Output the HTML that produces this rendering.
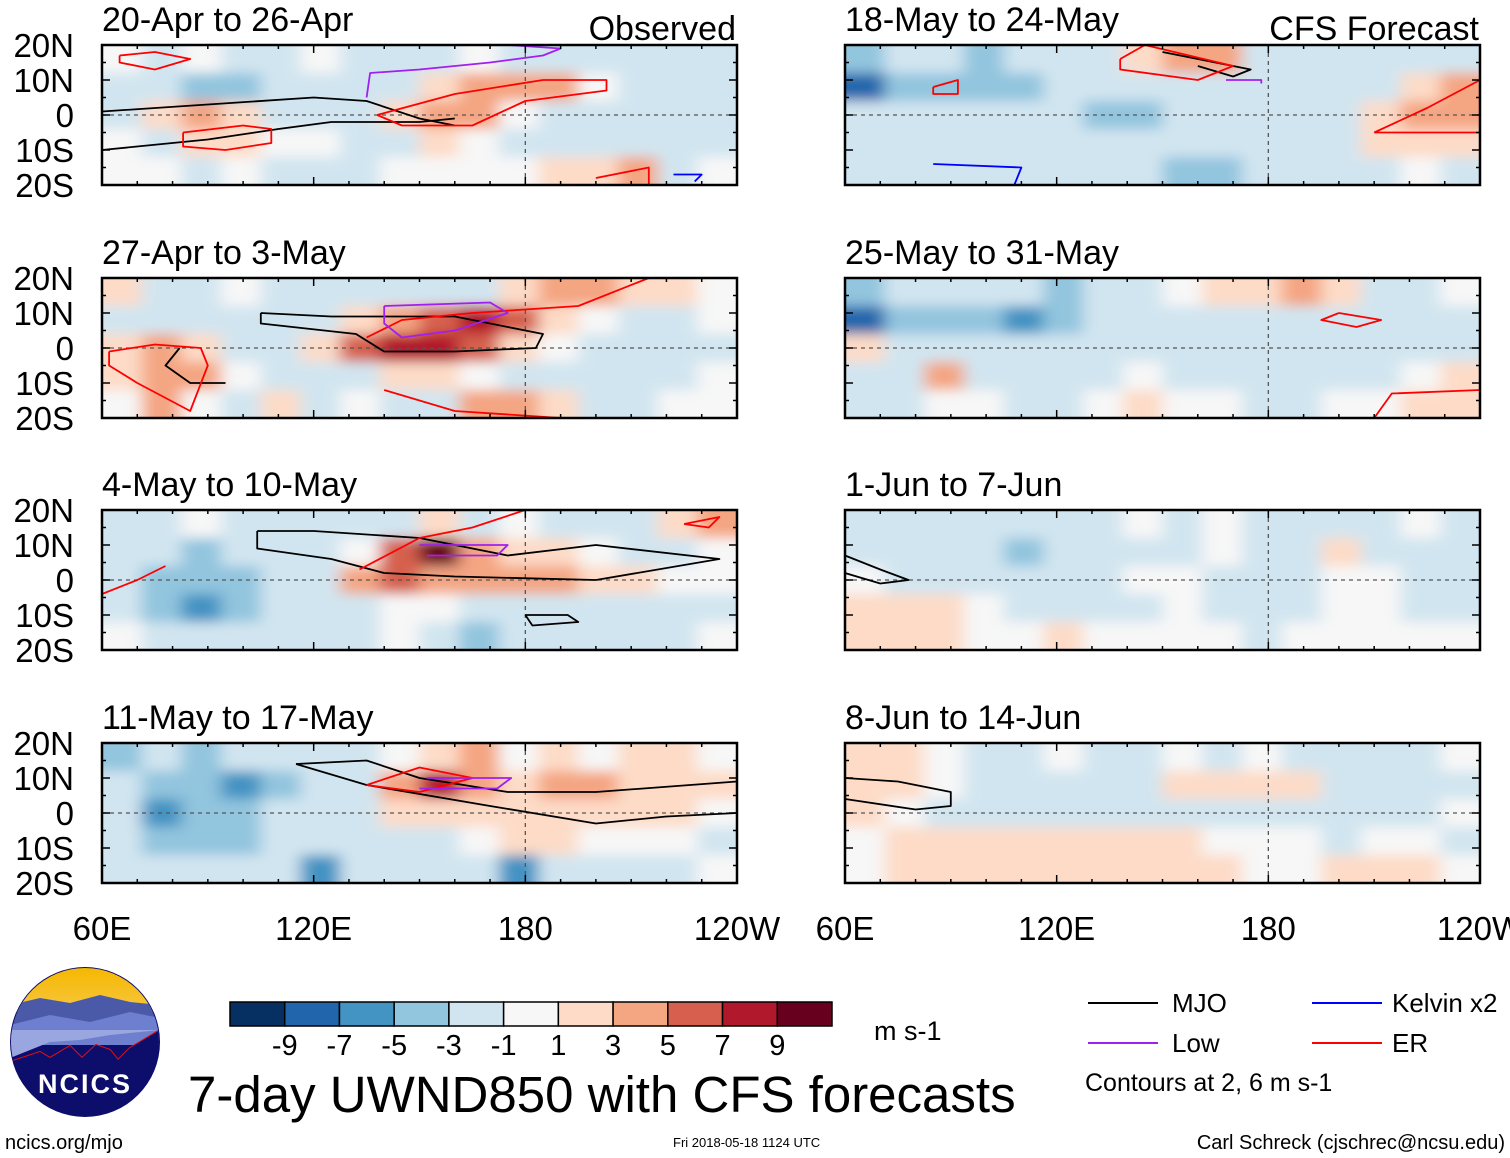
<!DOCTYPE html>
<html><head><meta charset="utf-8">
<style>
body{margin:0;background:#fff;}
svg{display:block;font-family:"Liberation Sans",Arial,sans-serif;}
</style></head>
<body>
<svg id="fig" width="1510" height="1158" viewBox="0 0 1510 1158" xmlns="http://www.w3.org/2000/svg">
<defs>
<filter id="soft" x="-5%" y="-10%" width="110%" height="120%"><feGaussianBlur stdDeviation="8 6"/></filter>
<linearGradient id="sky" x1="0" y1="0" x2="0" y2="1"><stop offset="0" stop-color="#f5b800"/><stop offset="1" stop-color="#f7c640"/></linearGradient>
<clipPath id="logoclip"><circle cx="85" cy="1042" r="74"/></clipPath>
</defs>
<g id="panels"></g>

<g id="cbar"></g>
<text x="874" y="1040" font-size="27">m s-1</text>
<text x="188" y="1112" font-size="51">7-day UWND850 with CFS forecasts</text>

<g>
<line x1="1088" y1="1003" x2="1158" y2="1003" stroke="#000" stroke-width="2"/>
<text x="1172" y="1012" font-size="26">MJO</text>
<line x1="1088" y1="1043" x2="1158" y2="1043" stroke="#a020f0" stroke-width="2"/>
<text x="1172" y="1052" font-size="26">Low</text>
<line x1="1312" y1="1003" x2="1382" y2="1003" stroke="#0000ff" stroke-width="2"/>
<text x="1392" y="1012" font-size="26">Kelvin x2</text>
<line x1="1312" y1="1043" x2="1382" y2="1043" stroke="#ff0000" stroke-width="2"/>
<text x="1392" y="1052" font-size="26">ER</text>
<text x="1085" y="1091" font-size="25">Contours at 2, 6 m s-1</text>
</g>

<g>
<circle cx="85" cy="1042" r="75" fill="#0d0d6b"/>
<g clip-path="url(#logoclip)">
<rect x="10" y="967" width="150" height="45" fill="url(#sky)"/>
<path d="M10 1005 L40 998 L70 1003 L100 995 L130 1002 L160 1005 L160 1030 L10 1030Z" fill="#4a5aa8"/>
<path d="M10 1025 L50 1015 L90 1022 L130 1012 L160 1018 L160 1045 L10 1045Z" fill="#6f7fd0"/>
<path d="M10 1058 L50 1042 L80 1040 L110 1035 L160 1030 L10 1030Z" fill="#9aa6e0"/>
<path d="M10 1062 L40 1052 L50 1058 L70 1046 L82 1058 L96 1045 L110 1050 L118 1060 L130 1048 L160 1030" fill="none" stroke="#e01010" stroke-width="2"/>
<path d="M10 1062 L40 1052 L50 1058 L70 1046 L82 1058 L96 1045 L110 1050 L118 1060 L130 1048 L160 1030 L160 1120 L10 1120Z" fill="#0d0d6b"/>
</g>
<text x="85" y="1093" font-size="27" font-weight="bold" fill="#fff" text-anchor="middle" letter-spacing="2">NCICS</text>
</g>

<text x="5" y="1149" font-size="20">ncics.org/mjo</text>
<text x="673" y="1147" font-size="13">Fri 2018-05-18 1124 UTC</text>
<text x="1505" y="1149" font-size="20" text-anchor="end">Carl Schreck (cjschrec@ncsu.edu)</text>
</svg>
<script>
const levels=[-9,-7,-5,-3,-1,1,3,5,7,9];
const colors=["#053061","#2166ac","#4393c3","#92c5de","#d1e5f0","#f7f7f7","#fddbc7","#f4a582","#d6604d","#b2182b","#67001f"];
const latTicks=["20N","10N","0","10S","20S"];
const lonTicks=["60E","120E","180","120W"];
const titles=["20-Apr to 26-Apr","27-Apr to 3-May","4-May to 10-May","11-May to 17-May","18-May to 24-May","25-May to 31-May","1-Jun to 7-Jun","8-Jun to 14-Jun"];
const p1=[[0,-2,0,-2,-1,0,-1,-1,-1,0,-1,-2,-1,-2,-2,-1],[-1,-1,-3,-4,-2,-1,-2,-1,2,3,4,3,0,-2,-2,-1],[-1,2,3,2,-1,-1,-2,2,4,3,0,-1,-2,-2,-2,-1],[0,-1,1,1,0,0,-2,-1,1,0,-1,-1,-1,-1,-2,-1],[0,0,-1,0,-1,-1,-1,0,0,0,0,1,2,3,-1,0]];
const p2=[[2,-1,-1,0,-1,-1,-1,-2,-2,-1,1,3,3,2,1,0],[-1,-2,-1,-2,-2,-1,2,4,6,8,5,2,0,-1,-1,0],[2,3,1,-1,-1,1,5,7,8,6,2,0,-1,-2,-1,-1],[2,4,3,0,-1,-1,-1,1,2,0,-1,-1,-2,-1,-1,0],[0,3,0,-1,1,-1,0,-2,-1,4,3,1,-1,-1,0,0]];
const p3=[[-1,-1,0,-1,-1,-1,-2,-2,2,-1,0,-1,-1,-1,1,3],[-1,-2,-3,-2,-1,-1,0,6,9,3,2,1,0,-1,-1,0],[-2,-4,-4,-3,-2,-1,3,5,4,3,4,3,2,1,0,0],[-1,-4,-5,-3,-1,-1,-1,0,0,-1,-1,-1,-1,-1,-1,-1],[0,-1,-2,-1,-1,-1,-1,0,-1,-3,-1,-1,-2,-1,-1,0]];
const p4=[[-4,-2,-3,-2,-1,-1,-1,0,1,3,0,1,0,1,1,0],[-2,-4,-3,-5,-3,-2,-1,3,7,4,2,3,3,2,2,2],[-2,-5,-4,-4,-2,-1,-1,1,2,2,2,2,2,2,1,0],[-2,-3,-3,-3,-2,-2,-1,-1,-1,0,1,1,0,0,0,-1],[-1,-2,-1,-2,-2,-6,-2,-1,-2,-1,-5,-2,-1,-1,-1,0]];
const p5=[[-3,-2,-1,-3,-2,-1,-1,2,4,3,-1,-1,-2,-1,-1,-1],[-8,-4,-3,-4,-4,-2,-2,-1,-1,-1,-1,-2,-1,-2,2,4],[-2,-2,-1,-1,-2,-2,-4,-3,-2,-1,-1,-1,-1,2,3,4],[-1,-1,-1,-1,-1,-2,-2,-1,-2,-2,-1,-1,-1,1,2,1],[-1,-1,-2,-1,-1,-1,-1,-2,-3,-3,-2,-2,-1,-1,0,-1]];
const p6=[[-3,-2,-1,-2,-2,-3,-2,-1,0,1,2,3,2,-1,-1,0],[-8,-4,-3,-4,-5,-4,-2,-1,-1,-1,-1,-1,-1,-1,-1,-1],[2,-1,-1,-1,-1,-2,-1,-1,-1,-1,-1,-1,-2,-1,-1,-1],[-1,-1,3,-1,-1,-1,-1,0,-1,-1,-1,-1,-1,-1,0,1],[-1,-1,0,0,-1,-1,0,1,0,0,-1,-1,0,0,2,2]];
const p7=[[-1,-1,-1,-2,-1,-2,-1,0,-1,0,-1,-1,-1,-1,0,-1],[-1,-1,-1,-2,-3,-2,-1,-1,-1,0,-1,-1,1,-1,-1,-1],[0,-1,-1,-1,-1,-1,-1,0,0,-1,-1,-1,0,0,-1,-1],[1,1,1,0,-1,-1,-1,-1,0,-1,-1,-1,0,0,-1,-1],[1,1,1,0,0,1,0,0,0,0,-1,0,0,0,0,0]];
const p8=[[2,1,0,-1,-1,0,-1,-1,0,-1,0,-1,-1,-1,-1,0],[2,2,0,-1,-1,-1,-1,-1,1,1,2,1,-1,-1,-1,-1],[1,0,-1,-1,-1,-1,-1,-1,-1,-1,-1,-1,-1,-1,-1,0],[0,1,1,2,1,1,1,1,1,0,0,0,-1,0,0,-1],[0,1,2,2,1,1,1,2,2,1,0,0,1,1,1,0]];
const panelData=[p1,p2,p3,p4,p5,p6,p7,p8];

// contours: [panelIndex, type, [[lon,lat],...]]
const mjoContours=[
 [0,[[60,1],[90,3],[120,5],[135,4],[150,-1],[160,-3]]],
 [0,[[60,-10],[90,-7],[110,-4],[125,-2],[150,-2],[160,-1]]],
 [1,[[105,10],[125,9],[160,9],[185,4],[183,0],[160,-1],[140,-1],[132,4],[105,7],[105,10]]],
 [1,[[82,0],[78,-5],[85,-10],[95,-10]]],
 [2,[[104,14],[120,14],[150,12],[175,7],[200,10],[235,6],[200,0],[160,1],[140,2],[125,6],[104,9],[104,14]]],
 [2,[[180,-10],[192,-10],[195,-12],[182,-13],[180,-10]]],
 [3,[[115,14],[135,15],[150,10],[175,6],[200,6],[240,9]]],
 [3,[[115,14],[135,8],[170,2],[200,-3],[220,-1],[240,0]]],
 [4,[[150,18],[175,13],[170,11],[160,14]]],
 [6,[[60,7],[70,3],[78,0],[70,-1],[60,2]]],
 [7,[[60,10],[75,9],[90,6],[90,2],[80,1],[60,4]]]
];
const erContours=[
 [0,[[65,17],[75,18],[85,16],[75,13],[65,15],[65,17]]],
 [0,[[83,-5],[100,-3],[108,-4],[108,-8],[95,-10],[83,-9],[83,-5]]],
 [0,[[138,0],[160,6],[185,10],[203,10],[203,7],[180,4],[165,-3],[145,-3],[138,0]]],
 [0,[[200,-18],[215,-15],[215,-20]]],
 [1,[[62,-1],[75,1],[88,0],[90,-5],[85,-18],[70,-10],[62,-5],[62,-1]]],
 [1,[[135,3],[145,8],[165,10],[195,12],[215,20]]],
 [1,[[140,-12],[160,-18],[190,-20]]],
 [2,[[133,3],[150,12],[165,15],[180,20]]],
 [2,[[60,-4],[70,0],[78,4]]],
 [2,[[225,16],[235,18],[232,15],[225,16]]],
 [3,[[135,8],[150,13],[165,10],[150,6],[135,8]]],
 [4,[[138,16],[145,20],[170,14],[160,10],[138,13],[138,16]]],
 [4,[[210,-5],[225,2],[240,10],[240,-5],[210,-5]]],
 [4,[[85,8],[92,10],[92,6],[85,6],[85,8]]],
 [5,[[200,10],[212,8],[205,6],[195,8],[200,10]]],
 [5,[[210,-20],[215,-13],[240,-12]]]
];
const lowContours=[
 [0,[[135,5],[136,12],[150,13],[170,15],[185,17],[190,19],[175,20]]],
 [1,[[140,12],[170,13],[175,10],[160,5],[145,3],[140,7],[140,12]]],
 [2,[[150,10],[175,10],[172,7],[152,7]]],
 [3,[[152,10],[176,10],[172,7],[150,7]]],
 [4,[[168,10],[178,10],[178,9]]]
];
const kelvinContours=[
 [4,[[85,-14],[110,-15],[108,-20],[85,-20]]],
 [0,[[222,-17],[230,-17],[228,-19]]]
];

const NS="http://www.w3.org/2000/svg";
function mk(tag,attrs,parent){const e=document.createElementNS(NS,tag);for(const k in attrs)e.setAttribute(k,attrs[k]);if(parent)parent.appendChild(e);return e;}
function colorOf(v){const x=v>0?v+0.01:(v<0?v-0.01:0);let i=0;while(i<levels.length&&x>=levels[i])i++;return colors[i];}
const PW=635,PH=140;
const colX=[102,845],rowY=[45,278,510,743];
function xScale(x0,lon){return x0+(lon-60)/180*PW;}
function yScale(y0,lat){return y0+(20-lat)/40*PH;}
const root=document.getElementById('panels');
const contourLayers=[];
panelData.forEach((grid,pi)=>{
  const x0=colX[pi<4?0:1],y0=rowY[pi%4];
  const g=mk('g',{},root);
  
  
  const cid='clip'+pi;
  const cp=mk('clipPath',{id:cid},g);mk('rect',{x:x0,y:y0,width:PW,height:PH},cp);
  const hm=mk('g',{'clip-path':'url(#'+cid+')'},g);
  
  
  const inner=mk('g',{filter:'url(#soft)'},hm);
  const nr=grid.length,nc=grid[0].length;
  grid.forEach((row,r)=>row.forEach((v,c)=>{
    const lonA=60+c*180/nc,lonB=60+(c+1)*180/nc;
    const latA=20-r*40/nr,latB=20-(r+1)*40/nr;
    let xa=xScale(x0,lonA),xb=xScale(x0,lonB),ya=yScale(y0,latA),yb=yScale(y0,latB);
    if(c===0)xa-=20;if(c===nc-1)xb+=20;if(r===0)ya-=20;if(r===nr-1)yb+=20;
    const cell=mk('rect',{x:xa,y:ya,width:xb-xa+0.5,height:yb-ya+0.5,fill:colorOf(v)},inner);
    
    
  }));
  mk('line',{x1:x0,y1:yScale(y0,0),x2:x0+PW,y2:yScale(y0,0),stroke:'#555','stroke-width':1.3,'stroke-dasharray':'4 4'},g);
  mk('line',{x1:xScale(x0,180),y1:y0,x2:xScale(x0,180),y2:y0+PH,stroke:'#555','stroke-width':1.3,'stroke-dasharray':'4 4'},g);
  const cl=mk('g',{'clip-path':'url(#'+cid+')',fill:'none','stroke-width':1.8,'stroke-linejoin':'round'},g);
  
  
  contourLayers.push({g:cl,x0:x0,y0:y0});
  const fr=mk('rect',{x:x0,y:y0,width:PW,height:PH,fill:'none',stroke:'#000','stroke-width':2.5},g);
  
  
  for(let lon=60;lon<=240;lon+=10){const x=xScale(x0,lon);const L=(lon%60===0)?8:4;
    mk('line',{x1:x,y1:y0,x2:x,y2:y0+L,stroke:'#000','stroke-width':1.5},g);
    mk('line',{x1:x,y1:y0+PH,x2:x,y2:y0+PH-L,stroke:'#000','stroke-width':1.5},g);}
  for(let lat=-20;lat<=20;lat+=5){const y=yScale(y0,lat);const L=(lat%10===0)?8:4;
    mk('line',{x1:x0,y1:y,x2:x0+L,y2:y,stroke:'#000','stroke-width':1.5},g);
    mk('line',{x1:x0+PW,y1:y,x2:x0+PW-L,y2:y,stroke:'#000','stroke-width':1.5},g);}
  const t=mk('text',{x:x0,y:y0-14,'font-size':34},g);t.textContent=titles[pi];
  
  
  if(pi===0||pi===4){const s=mk('text',{x:x0+PW-1,y:y0-5,'font-size':34,'text-anchor':'end'},g);s.textContent=pi===0?'Observed':'CFS Forecast';
    
    }
  if(pi<4){latTicks.forEach((lb,i)=>{const tt=mk('text',{x:74,y:yScale(y0,20-i*10)+12,'font-size':33,'text-anchor':'end'},g);tt.textContent=lb;
    
    });}
  if(pi%4===3){lonTicks.forEach((lb,i)=>{const tt=mk('text',{x:xScale(x0,60+i*60),y:940,'font-size':33,'text-anchor':'middle'},g);tt.textContent=lb;
    
    });}
});
function drawContours(list,color,name){
  list.forEach(([pi,pts])=>{
    const L=contourLayers[pi];
    const d=pts.map((p,i)=>(i?'L':'M')+xScale(L.x0,p[0]).toFixed(1)+' '+yScale(L.y0,p[1]).toFixed(1)).join(' ');
    const path=mk('path',{d:d,stroke:color},L.g);
    
    
  });
}
drawContours(mjoContours,'#000','mjo-contour');
drawContours(erContours,'#ff0000','er-contour');
drawContours(lowContours,'#a020f0','low-contour');
drawContours(kelvinContours,'#0000ff','kelvin-contour');

const cb=document.getElementById('cbar');const cbx=230,cbw=602/colors.length;
colors.forEach((c,i)=>{const r=mk('rect',{x:cbx+i*cbw,y:1002,width:cbw,height:24,fill:c,stroke:'#000','stroke-width':1.5},cb);
  
  });
levels.forEach((v,i)=>{const t=mk('text',{x:cbx+(i+1)*cbw,y:1055,'font-size':29,'text-anchor':'middle'},cb);t.textContent=String(v);
  
  });
</script>
</body></html>
